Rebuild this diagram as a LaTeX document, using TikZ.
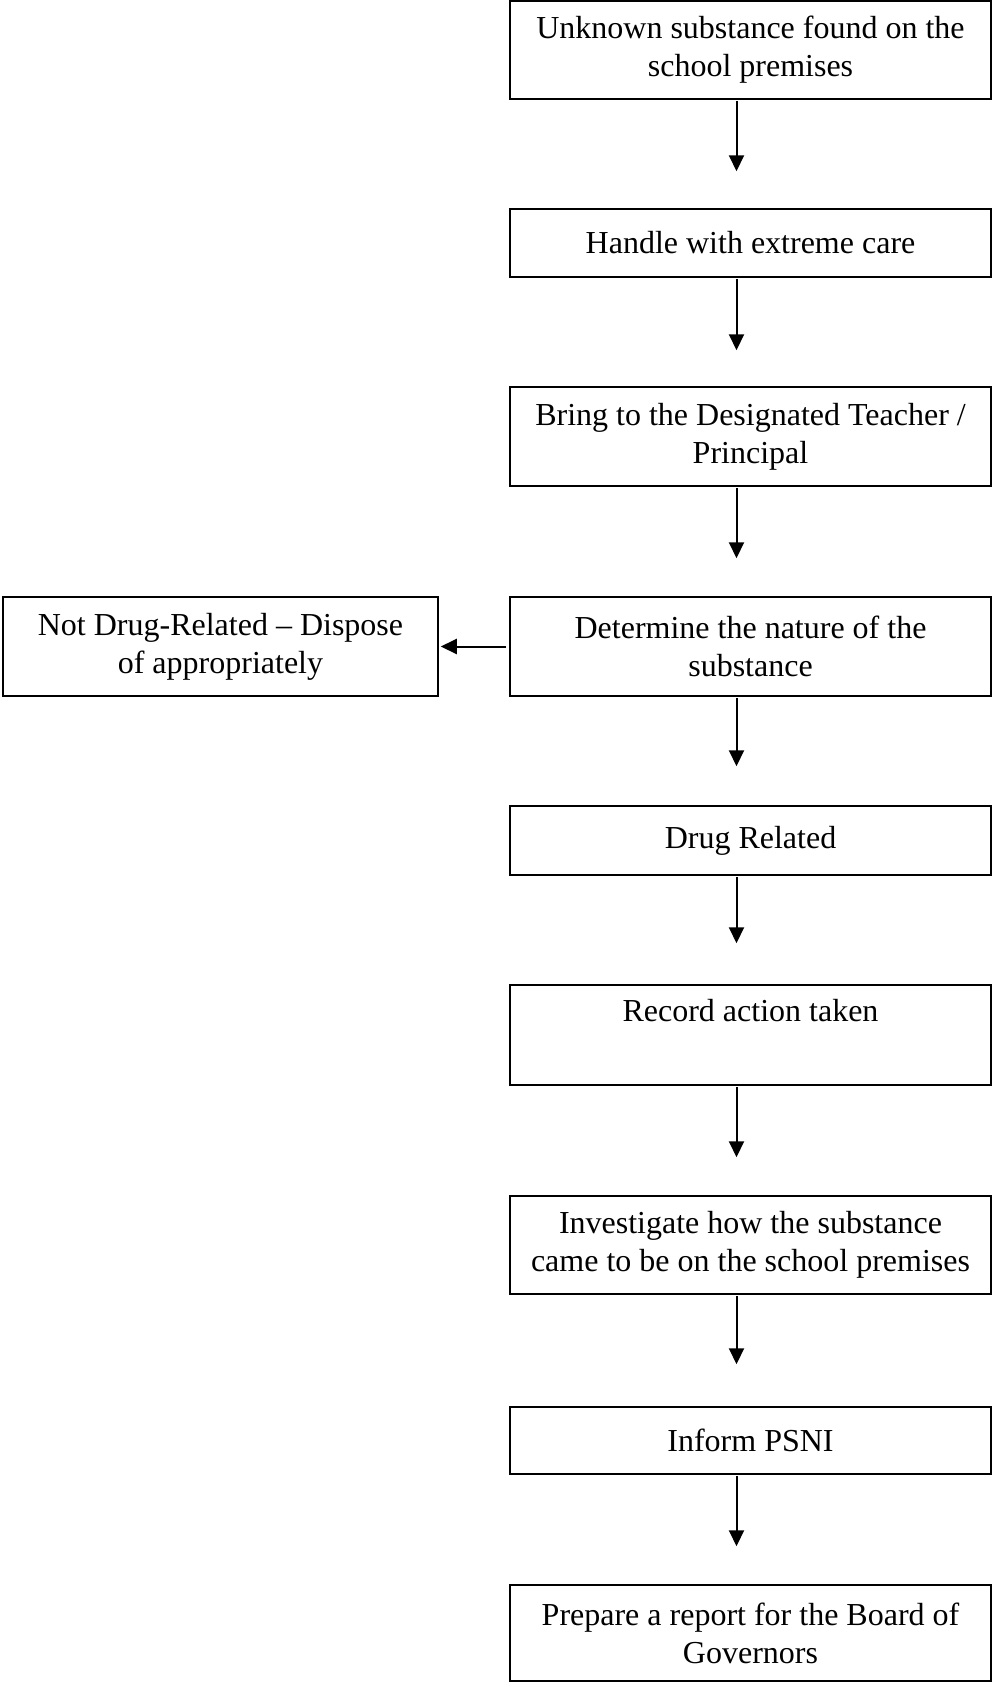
\documentclass[tikz,border=0pt]{standalone}
\usepackage{fontspec}
\setmainfont{Liberation Serif}
\usetikzlibrary{arrows.meta}
\begin{document}
\begin{tikzpicture}[x=1pt,y=-1pt,
  box/.style={draw, line width=1.5pt, rectangle, inner sep=0pt, align=center,
    minimum width=481pt, font=\fontsize{32}{38}\selectfont},
  arr/.style={line width=2pt, -{Triangle[width=15pt,length=16pt]}, shorten <=1pt}]
\useasboundingbox (0,0) rectangle (992,1682);
\node[box, minimum height=98pt]  (b1) at (750.5,50)    {Unknown substance found on the\\school premises};
\node[box, minimum height=68pt]  (b2) at (750.5,243)   {Handle with extreme care};
\node[box, minimum height=99pt]  (b3) at (750.5,436.5) {Bring to the Designated Teacher /\\Principal};
\node[box, minimum height=99pt]  (b4) at (750.5,646.5) {Determine the nature of the\\substance};
\node[box, minimum height=69pt]  (b5) at (750.5,840.5) {Drug Related};
\node[box, minimum height=100pt] (b6) at (750.5,1035)  {Record action taken\\\strut};
\node[box, minimum height=98pt]  (b7) at (750.5,1245)  {Investigate how the substance\\came to be on the school premises};
\node[box, minimum height=67pt]  (b8) at (750.5,1440.5){Inform PSNI};
\node[box, minimum height=96pt]  (b9) at (750.5,1633)  {Prepare a report for the Board of\\Governors};
\node[box, minimum width=435pt, minimum height=99pt] (nd) at (220.5,646.5) {Not Drug-Related -- Dispose\\of appropriately};
\draw[arr, shorten >=37pt] ([xshift=-14pt]b1.south) -- ([xshift=-14pt]b2.north);
\draw[arr, shorten >=36pt] ([xshift=-14pt]b2.south) -- ([xshift=-14pt]b3.north);
\draw[arr, shorten >=38pt] ([xshift=-14pt]b3.south) -- ([xshift=-14pt]b4.north);
\draw[arr, shorten >=39pt] ([xshift=-14pt]b4.south) -- ([xshift=-14pt]b5.north);
\draw[arr, shorten >=41pt] ([xshift=-14pt]b5.south) -- ([xshift=-14pt]b6.north);
\draw[arr, shorten >=38pt] ([xshift=-14pt]b6.south) -- ([xshift=-14pt]b7.north);
\draw[arr, shorten >=42pt] ([xshift=-14pt]b7.south) -- ([xshift=-14pt]b8.north);
\draw[arr, shorten >=38pt] ([xshift=-14pt]b8.south) -- ([xshift=-14pt]b9.north);
\draw[arr, shorten <=3pt, shorten >=2pt] (b4.west) -- (nd.east);
\end{tikzpicture}
\end{document}
